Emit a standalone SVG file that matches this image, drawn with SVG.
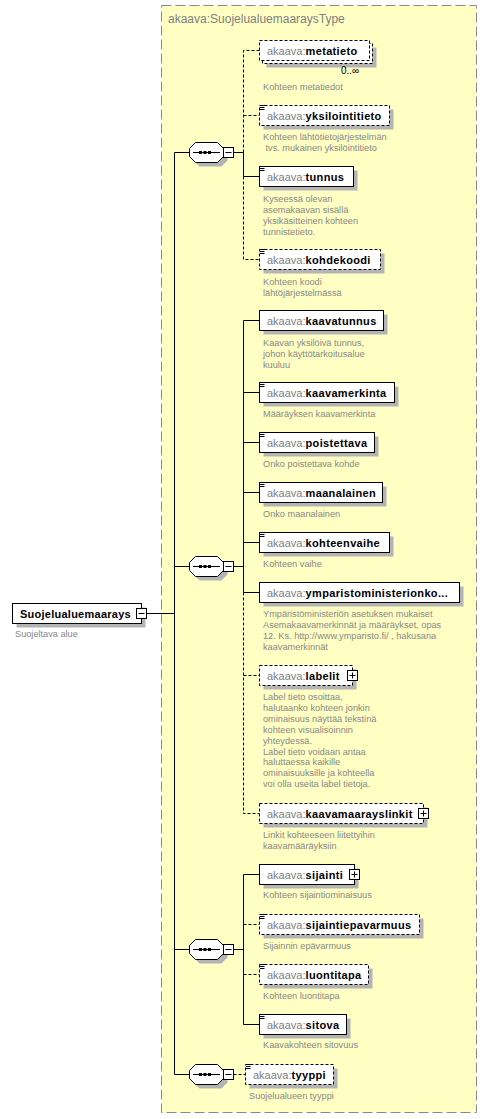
<svg xmlns="http://www.w3.org/2000/svg" width="488" height="1119" viewBox="0 0 488 1119">
<style>
text{font-family:"Liberation Sans",Arial,sans-serif}
.lbl{font-size:11px}
.pre{fill:#808080}
.nm{font-weight:bold;fill:#000;letter-spacing:.35px}
.desc{font-size:9.2px;fill:#888}
.box{fill:#fff;stroke:#000;stroke-width:1}
.opt{stroke-dasharray:3,2}
.sh{fill:#b4b4b4}
.c{stroke:#000;stroke-width:1;fill:none}
.d{stroke-dasharray:3,2}
.pm{fill:#fff;stroke:#000;stroke-width:1}
.ln{stroke:#000;stroke-width:1;fill:none}
.type{fill:#ffffc4;stroke:#8a8a8a;stroke-width:1;stroke-dasharray:10,4}
.ttl{font-size:12px;fill:#808080}
</style>
<defs>
<g id="minus"><rect class="pm" x="-5" y="-5" width="10" height="10"/><path class="ln" d="M-3,0H3"/></g>
<g id="plus"><rect class="pm" x="-5" y="-5" width="10" height="10"/><path class="ln" d="M-3,0H3M0,-3V3"/></g>
<g id="doc"><path class="ln" d="M0,0H6M0,2H4.5M0,4H4.5"/></g>
<g id="seq">
<path class="sh" d="M199.5,-6 H221.5 L227.5,0 V8 L221.5,14 H199.5 L193.5,8 V0 Z"/>
<path fill="#fff" stroke="#000" d="M195.5,-10 H217.5 L223.5,-4 V4 L217.5,10 H195.5 L189.5,4 V-4 Z"/>
<path class="ln" d="M193,0H220"/>
<rect x="199" y="-1.5" width="3" height="3" fill="#000"/>
<rect x="203.5" y="-1.5" width="3" height="3" fill="#000"/>
<rect x="208" y="-1.5" width="3" height="3" fill="#000"/>
<use href="#minus" x="228.5" y="0"/>
</g>
</defs>

<g id="type-box">
<rect class="type" x="161.5" y="5.5" width="315" height="1107"/>
<text class="ttl" x="168" y="23">akaava:SuojelualuemaaraysType</text>
</g>

<g id="connectors">
<path class="c" d="M146.5,613.5H174.5M174.5,152.5V1074.5M174.5,152.5H189.5M174.5,566.5H189.5M174.5,949.5H189.5M174.5,1074.5H189.5"/>
<path class="c" d="M233.5,152.5H243.5V176.5H259.5"/>
<path class="c d" d="M243.5,152.5V50.5H259.5M243.5,115.5H259.5M243.5,176.5V259.5H259.5"/>
<path class="c" d="M233.5,566.5H243.5M243.5,320.5V592.5M243.5,320.5H259.5M243.5,392.5H259.5M243.5,442.5H259.5M243.5,492.5H259.5M243.5,542.5H259.5M243.5,592.5H259.5"/>
<path class="c d" d="M243.5,592.5V813.5H259.5M243.5,675.5H259.5"/>
<path class="c" d="M233.5,949.5H243.5M243.5,874.5V1024.5M243.5,874.5H259.5M243.5,1024.5H259.5"/>
<path class="c d" d="M243.5,924.5H259.5M243.5,974.5H259.5M233.5,1074.5H245.5"/>
</g>

<g id="seq1"><use href="#seq" transform="translate(0,152.5)"/></g>
<g id="seq2"><use href="#seq" transform="translate(0,566.5)"/></g>
<g id="seq3"><use href="#seq" transform="translate(0,949.5)"/></g>
<g id="seq4"><use href="#seq" transform="translate(0,1074.5)"/></g>

<g id="n-suojelualuemaarays">
<rect class="sh" x="16.5" y="607.5" width="129" height="20"/>
<rect class="box" x="12.5" y="603.5" width="129" height="20"/>
<text class="lbl" x="20" y="617.5"><tspan class="nm" style="letter-spacing:.25px">Suojelualuemaarays</tspan></text>
<use href="#minus" x="141.5" y="613.5"/>
<text class="desc" x="15" y="636.7">Suojeltava alue</text>
</g>

<g id="n-metatieto">
<rect class="sh" x="266.5" y="47.5" width="110" height="20"/>
<rect class="box opt" x="262.5" y="43.5" width="110" height="20"/>
<rect class="box opt" x="259.5" y="40.5" width="110" height="20"/>
<text class="lbl" x="267" y="54.5"><tspan class="pre">akaava:</tspan><tspan class="nm">metatieto</tspan></text>
<text x="341" y="74" font-size="10" fill="#000">0..∞</text>
<text class="desc" x="263" y="90">Kohteen metatiedot</text>
</g>

<g id="n-yksilointitieto">
<rect class="sh" x="263.5" y="109.5" width="130" height="20"/>
<rect class="box opt" x="259.5" y="105.5" width="130" height="20"/>
<use href="#doc" x="260" y="105.5"/>
<text class="lbl" x="267" y="119.5"><tspan class="pre">akaava:</tspan><tspan class="nm">yksilointitieto</tspan></text>
<text class="desc" x="263" y="140">Kohteen lähtötietojärjestelmän</text>
<text class="desc" x="265.5" y="151">tvs. mukainen yksilöintitieto</text>
</g>

<g id="n-tunnus">
<rect class="sh" x="263.5" y="170.5" width="94" height="20"/>
<rect class="box" x="259.5" y="166.5" width="94" height="20"/>
<use href="#doc" x="260" y="166.5"/>
<text class="lbl" x="267" y="180.5"><tspan class="pre">akaava:</tspan><tspan class="nm">tunnus</tspan></text>
<text class="desc" x="263" y="201.7">Kyseessä olevan</text>
<text class="desc" x="263" y="212.7">asemakaavan sisällä</text>
<text class="desc" x="263" y="223.7">yksikäsitteinen kohteen</text>
<text class="desc" x="263" y="234.7">tunnistetieto.</text>
</g>

<g id="n-kohdekoodi">
<rect class="sh" x="263.5" y="253.5" width="121" height="20"/>
<rect class="box opt" x="259.5" y="249.5" width="121" height="20"/>
<use href="#doc" x="260" y="249.5"/>
<text class="lbl" x="267" y="263.5"><tspan class="pre">akaava:</tspan><tspan class="nm">kohdekoodi</tspan></text>
<text class="desc" x="263" y="285">Kohteen koodi</text>
<text class="desc" x="263" y="296">lähtöjärjestelmässä</text>
</g>

<g id="n-kaavatunnus">
<rect class="sh" x="263.5" y="314.5" width="124" height="20"/>
<rect class="box" x="259.5" y="310.5" width="124" height="20"/>
<text class="lbl" x="267" y="324.5"><tspan class="pre">akaava:</tspan><tspan class="nm">kaavatunnus</tspan></text>
<text class="desc" x="263" y="345.7">Kaavan yksilöivä tunnus,</text>
<text class="desc" x="263" y="356.7">johon käyttötarkoitusalue</text>
<text class="desc" x="263" y="367.7">kuuluu</text>
</g>

<g id="n-kaavamerkinta">
<rect class="sh" x="263.5" y="386.5" width="135" height="20"/>
<rect class="box" x="259.5" y="382.5" width="135" height="20"/>
<use href="#doc" x="260" y="382.5"/>
<text class="lbl" x="267" y="396.5"><tspan class="pre">akaava:</tspan><tspan class="nm">kaavamerkinta</tspan></text>
<text class="desc" x="263" y="417">Määräyksen kaavamerkinta</text>
</g>

<g id="n-poistettava">
<rect class="sh" x="263.5" y="436.5" width="115" height="20"/>
<rect class="box" x="259.5" y="432.5" width="115" height="20"/>
<use href="#doc" x="260" y="432.5"/>
<text class="lbl" x="267" y="446.5"><tspan class="pre">akaava:</tspan><tspan class="nm">poistettava</tspan></text>
<text class="desc" x="263" y="466.7">Onko poistettava kohde</text>
</g>

<g id="n-maanalainen">
<rect class="sh" x="263.5" y="486.5" width="123" height="20"/>
<rect class="box" x="259.5" y="482.5" width="123" height="20"/>
<use href="#doc" x="260" y="482.5"/>
<text class="lbl" x="267" y="496.5"><tspan class="pre">akaava:</tspan><tspan class="nm">maanalainen</tspan></text>
<text class="desc" x="263" y="516.7">Onko maanalainen</text>
</g>

<g id="n-kohteenvaihe">
<rect class="sh" x="263.5" y="536.5" width="130" height="20"/>
<rect class="box" x="259.5" y="532.5" width="130" height="20"/>
<use href="#doc" x="260" y="532.5"/>
<text class="lbl" x="267" y="546.5"><tspan class="pre">akaava:</tspan><tspan class="nm">kohteenvaihe</tspan></text>
<text class="desc" x="263" y="566.7">Kohteen vaihe</text>
</g>

<g id="n-ymparistoministerionko">
<rect class="sh" x="263.5" y="586.5" width="200" height="20"/>
<rect class="box" x="259.5" y="582.5" width="200" height="20"/>
<text class="lbl" x="267" y="596.5"><tspan class="pre">akaava:</tspan><tspan class="nm">ymparistoministerionko...</tspan></text>
<text class="desc" x="263" y="617.3">Ympäristöministeriön asetuksen mukaiset</text>
<text class="desc" x="263" y="628.3">Asemakaavamerkinnät ja määräykset, opas</text>
<text class="desc" x="263" y="639.3">12. Ks. http://www.ymparisto.fi/ , hakusana</text>
<text class="desc" x="263" y="650.3">kaavamerkinnät</text>
</g>

<g id="n-labelit">
<rect class="sh" x="263.5" y="669.5" width="93" height="20"/>
<rect class="box opt" x="259.5" y="665.5" width="93" height="20"/>
<text class="lbl" x="267" y="679.5"><tspan class="pre">akaava:</tspan><tspan class="nm">labelit</tspan></text>
<use href="#plus" x="352.5" y="675.5"/>
<text class="desc" x="263" y="700">Label tieto osoittaa,</text>
<text class="desc" x="263" y="710.9">halutaanko kohteen jonkin</text>
<text class="desc" x="263" y="721.8">ominaisuus näyttää tekstinä</text>
<text class="desc" x="263" y="732.7">kohteen visualisoinnin</text>
<text class="desc" x="263" y="743.6">yhteydessä.</text>
<text class="desc" x="263" y="754.5">Label tieto voidaan antaa</text>
<text class="desc" x="263" y="765.4">haluttaessa kaikille</text>
<text class="desc" x="263" y="776.3">ominaisuuksille ja kohteella</text>
<text class="desc" x="263" y="787.2">voi olla useita label tietoja.</text>
</g>

<g id="n-kaavamaarayslinkit">
<rect class="sh" x="263.5" y="807.5" width="164" height="20"/>
<rect class="box opt" x="259.5" y="803.5" width="164" height="20"/>
<text class="lbl" x="267" y="817.5"><tspan class="pre">akaava:</tspan><tspan class="nm">kaavamaarayslinkit</tspan></text>
<use href="#plus" x="423.5" y="813.5"/>
<text class="desc" x="263" y="838">Linkit kohteeseen liitettyihin</text>
<text class="desc" x="263" y="849">kaavamääräyksiin</text>
</g>

<g id="n-sijainti">
<rect class="sh" x="263.5" y="868.5" width="95" height="20"/>
<rect class="box" x="259.5" y="864.5" width="95" height="20"/>
<text class="lbl" x="267" y="878.5"><tspan class="pre">akaava:</tspan><tspan class="nm">sijainti</tspan></text>
<use href="#plus" x="354.5" y="874.5"/>
<text class="desc" x="263" y="898.3">Kohteen sijaintiominaisuus</text>
</g>

<g id="n-sijaintiepavarmuus">
<rect class="sh" x="263.5" y="918.5" width="160" height="20"/>
<rect class="box opt" x="259.5" y="914.5" width="160" height="20"/>
<use href="#doc" x="260" y="914.5"/>
<text class="lbl" x="267" y="928.5"><tspan class="pre">akaava:</tspan><tspan class="nm">sijaintiepavarmuus</tspan></text>
<text class="desc" x="263" y="949">Sijainnin epävarmuus</text>
</g>

<g id="n-luontitapa">
<rect class="sh" x="263.5" y="968.5" width="109" height="20"/>
<rect class="box opt" x="259.5" y="964.5" width="109" height="20"/>
<use href="#doc" x="260" y="964.5"/>
<text class="lbl" x="267" y="978.5"><tspan class="pre">akaava:</tspan><tspan class="nm">luontitapa</tspan></text>
<text class="desc" x="263" y="999">Kohteen luontitapa</text>
</g>

<g id="n-sitova">
<rect class="sh" x="263.5" y="1018.5" width="87" height="20"/>
<rect class="box" x="259.5" y="1014.5" width="87" height="20"/>
<use href="#doc" x="260" y="1014.5"/>
<text class="lbl" x="267" y="1028.5"><tspan class="pre">akaava:</tspan><tspan class="nm">sitova</tspan></text>
<text class="desc" x="263" y="1048.3">Kaavakohteen sitovuus</text>
</g>

<g id="n-tyyppi">
<rect class="sh" x="249.5" y="1068.5" width="88" height="20"/>
<rect class="box opt" x="245.5" y="1064.5" width="88" height="20"/>
<use href="#doc" x="246" y="1064.5"/>
<text class="lbl" x="253" y="1078.5"><tspan class="pre">akaava:</tspan><tspan class="nm">tyyppi</tspan></text>
<text class="desc" x="249" y="1099">Suojelualueen tyyppi</text>
</g>
</svg>
